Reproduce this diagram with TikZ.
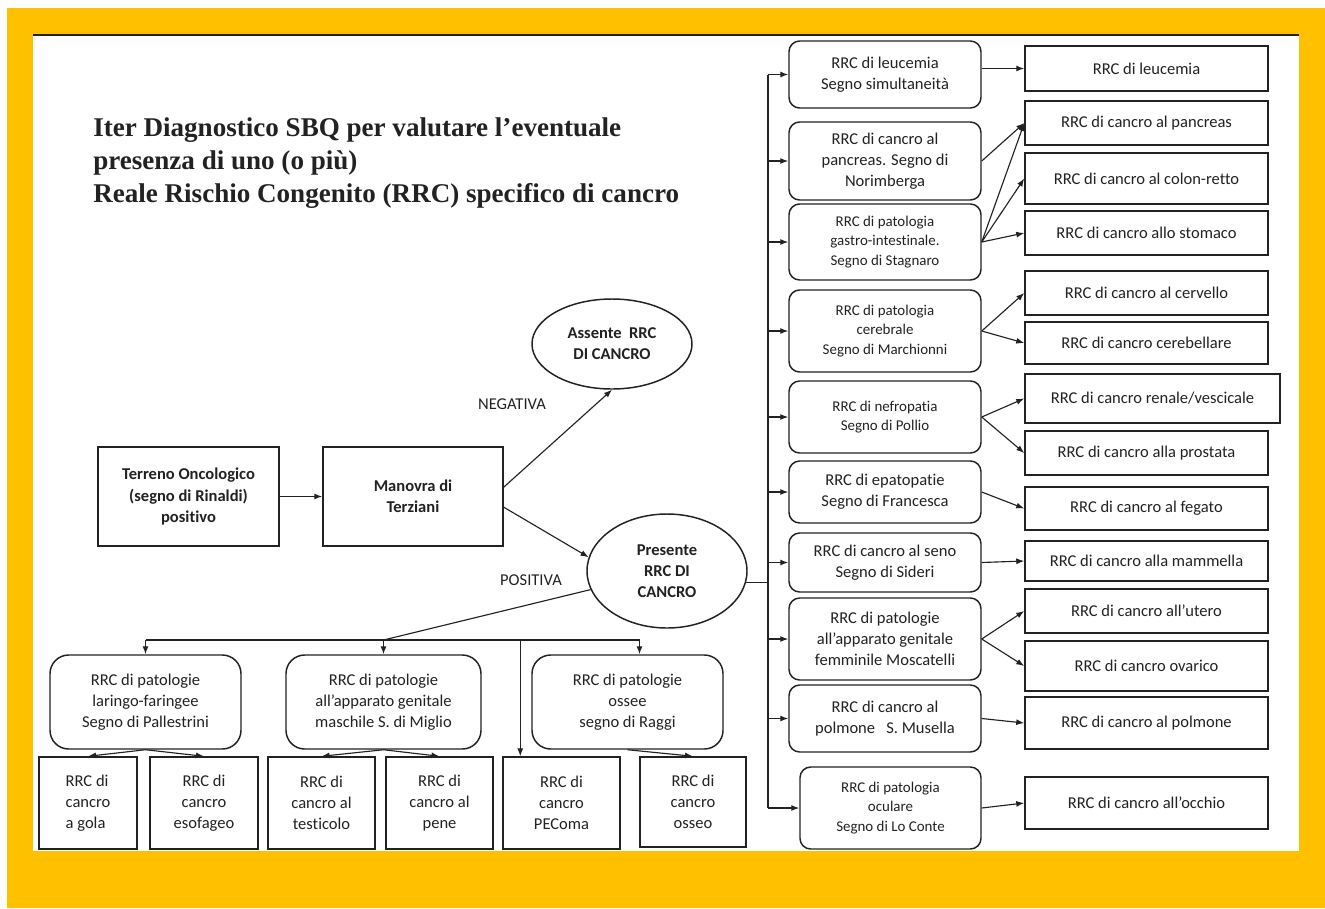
\documentclass[tikz,border=0pt]{standalone}
\usepackage{fontspec}
\setmainfont{Carlito}[Ligatures=NoCommon]
\newfontfamily\titlefont{Liberation Serif}
\usetikzlibrary{arrows.meta,shapes.geometric}
\definecolor{frameorange}{RGB}{255,192,0}
\definecolor{ink}{RGB}{34,34,34}
\tikzset{
  wh/.style 2 args={minimum width=#1*0.75pt, minimum height=#2*0.75pt},
  sqbox/.style={draw=ink, line width=1.1pt, rectangle},
  rbox/.style={draw=ink, line width=1.1pt, rectangle, rounded corners=8pt},
  roundbox/.style={draw=ink, line width=1.1pt, rectangle, rounded corners=14pt},
  oval/.style={draw=ink, line width=1.1pt, ellipse},
  bigfont/.style={font=\fontsize{12.4}{15.8}\selectfont},
  smallfont/.style={font=\fontsize{11.2}{14.6}\selectfont},
  boldfont/.style={font=\bfseries\fontsize{12.4}{15.8}\selectfont},
  link/.style={draw=ink, line width=0.85pt}
}

\begin{document}
\begin{tikzpicture}[x=0.75pt,y=-0.75pt,
  >={Latex[length=6pt,width=4.5pt]},
  every node/.style={text=ink, inner sep=0pt, align=center}]

  \useasboundingbox (0,0) rectangle (1325,908);
  \fill[white] (0,0) rectangle (1325,908);
  \fill[frameorange] (7,8) rectangle (1325,908);   % frame
  \fill[white] (33,35) rectangle (1299,851);       % page
  \draw[ink, line width=0.9pt] (33,35) -- (1299,35);

  % Title
  \node[anchor=base west, align=left, font=\titlefont\bfseries\fontsize{20.3}{24.4}\selectfont] (title) at (93,202)
    {Iter Diagnostico SBQ per valutare l’eventuale\\presenza di uno (o più)\\Reale Rischio Congenito (RRC) specifico di cancro};

  % Start of the path
  \node[sqbox, wh={181}{99}, boldfont] (terreno) at (188.5,496.5) {Terreno Oncologico\\(segno di Rinaldi)\\positivo};
  \node[sqbox, wh={180}{99}, boldfont] (manovra) at (413,496.5) {Manovra di\\Terziani};
  \node[oval, wh={160}{90}, boldfont] (assente) at (612,344) {Assente\ \ RRC\\DI CANCRO};
  \node[oval, wh={160}{114}, boldfont] (presente) at (667,571) {Presente\\RRC DI\\CANCRO};
  \node[bigfont] (neg) at (512,404) {NEGATIVA};
  \node[bigfont] (pos) at (531,580) {POSITIVA};

  % Middle column
  \node[rbox, wh={192}{67}, bigfont]   (leuc)   at (885,74.5) {RRC di leucemia\\Segno simultaneità};
  \node[rbox, wh={192}{78}, bigfont]   (panc)   at (885,161)  {RRC di cancro al\\pancreas. Segno di\\Norimberga};
  \node[rbox, wh={192}{76}, smallfont] (gastro) at (885,242)  {RRC di patologia\\gastro-intestinale.\\Segno di Stagnaro};
  \node[rbox, wh={192}{82}, smallfont] (cereb)  at (885,331)  {RRC di patologia\\cerebrale\\Segno di Marchionni};
  \node[rbox, wh={192}{72}, smallfont] (nefro)  at (885,417)  {RRC di nefropatia\\Segno di Pollio};
  \node[rbox, wh={192}{62}, bigfont]   (epato)  at (885,492)  {RRC di epatopatie\\Segno di Francesca};
  \node[rbox, wh={192}{59}, bigfont]   (seno)   at (885,562.5) {RRC di cancro al seno\\Segno di Sideri};
  \node[rbox, wh={192}{82}, bigfont]   (femm)   at (885,639)  {RRC di patologie\\all’apparato genitale\\femminile Moscatelli};
  \node[rbox, wh={192}{67}, bigfont]   (polm)   at (885,718.5) {RRC di cancro al\\polmone\ \ \ S. Musella};
  \node[rbox, wh={181}{82}, smallfont] (ocul)   at (890.5,808) {RRC di patologia\\oculare\\Segno di Lo Conte};

  % Right column
  \node[sqbox, wh={243}{45}, bigfont] (rleuc)   at (1146.5,68.5) {RRC di leucemia};
  \node[sqbox, wh={243}{44}, bigfont] (rpanc)   at (1146.5,123)  {RRC di cancro al pancreas};
  \node[sqbox, wh={243}{51}, bigfont] (rcolon)  at (1146.5,178.5) {RRC di cancro al colon-retto};
  \node[sqbox, wh={243}{44}, bigfont] (rstom)   at (1146.5,233)  {RRC di cancro allo stomaco};
  \node[sqbox, wh={243}{44}, bigfont] (rcerv)   at (1146.5,293)  {RRC di cancro al cervello};
  \node[sqbox, wh={243}{42}, bigfont] (rcbl)    at (1146.5,343)  {RRC di cancro cerebellare};
  \node[sqbox, wh={255}{49}, bigfont] (rrene)   at (1152.5,398.5) {RRC di cancro renale/vescicale};
  \node[sqbox, wh={243}{44}, bigfont] (rprost)  at (1146.5,453)  {RRC di cancro alla prostata};
  \node[sqbox, wh={243}{43}, bigfont] (rfeg)    at (1146.5,508.5) {RRC di cancro al fegato};
  \node[sqbox, wh={243}{40}, bigfont] (rmamm)   at (1146.5,561)  {RRC di cancro alla mammella};
  \node[sqbox, wh={243}{44}, bigfont] (rutero)  at (1146.5,611)  {RRC di cancro all’utero};
  \node[sqbox, wh={243}{50}, bigfont] (rovar)   at (1146.5,666)  {RRC di cancro ovarico};
  \node[sqbox, wh={243}{52}, bigfont] (rpolm)   at (1146.5,723)  {RRC di cancro al polmone};
  \node[sqbox, wh={243}{52}, bigfont] (rocchio) at (1146.5,803)  {RRC di cancro all’occhio};

  % Bottom row
  \node[roundbox, wh={191}{94}, bigfont] (laringo)  at (145.5,702) {RRC di patologie\\laringo-faringee\\Segno di Pallestrini};
  \node[roundbox, wh={195}{94}, bigfont] (maschile) at (383.5,702) {RRC di patologie\\all’apparato genitale\\maschile S. di Miglio};
  \node[roundbox, wh={191}{94}, bigfont] (ossee)    at (627.5,702) {RRC di patologie\\ossee\\segno di Raggi};

  \node[sqbox, wh={98}{92}, bigfont, align=left] (gola) at (88,803) {RRC di\\cancro\\a gola};
  \node[sqbox, wh={108}{92}, bigfont] (esofago) at (204,803)   {RRC di\\cancro\\esofageo};
  \node[sqbox, wh={107}{92}, bigfont] (testic)  at (321.5,803) {RRC di\\cancro al\\testicolo};
  \node[sqbox, wh={107}{92}, bigfont] (pene)    at (439.5,803) {RRC di\\cancro al\\pene};
  \node[sqbox, wh={117}{92}, bigfont] (pecoma)  at (561.5,803) {RRC di\\cancro\\PEComa};
  \node[sqbox, wh={106}{90}, bigfont] (osseo)   at (693,802)   {RRC di\\cancro\\osseo};

  % Arrows from the start
  \draw[link,->] (terreno) -- (manovra);
  \draw[link,->] ([yshift=7pt]manovra.east) -- (assente.south);
  \draw[link,->] ([yshift=-8pt]manovra.east) -- (presente.170);

  % Trunk to the middle column
  \coordinate (trunk) at (768,571);
  \draw[link] (presente.-8) -- (trunk |- presente.-8);
  \draw[link] (trunk |- leuc.west) -- (trunk |- ocul.west);
  \foreach \n in {leuc,panc,gastro,cereb,nefro,epato,seno,femm,polm,ocul}
    \draw[link,->] (trunk |- \n.west) -- (\n.west);

  % Middle column to right column
  \draw[link,->] (leuc.east |- rleuc.west) -- (rleuc.west);
  \draw[link,->] (panc.east) -- (rpanc.west);
  \foreach \r in {rpanc,rcolon,rstom}
    \draw[link,->] (gastro.east) -- (\r.west);
  \draw[link,->] (cereb.east) -- (rcerv.west);
  \draw[link,->] (cereb.east) -- (rcbl.west);
  \draw[link,->] (nefro.east) -- (rrene.west);
  \draw[link,->] (nefro.east) -- (rprost.west);
  \draw[link,->] (epato.east) -- (rfeg.west);
  \draw[link,->] (seno.east) -- (rmamm.west);
  \draw[link,->] (femm.east) -- (rutero.west);
  \draw[link,->] (femm.east) -- (rovar.west);
  \draw[link,->] (polm.east) -- (rpolm.west);
  \draw[link,->] (ocul.east) -- (rocchio.west);

  % Bus to the bottom row
  \coordinate (bus) at (383.5,640);
  \coordinate (osk) at ([xshift=9pt]ossee.north);
  \coordinate (pek) at ([xshift=13.5pt]pecoma.north west);
  \draw[link] (presente) -- (bus);
  \draw[link] (laringo.north |- bus) -- (osk |- bus);
  \draw[link,->] (laringo.north |- bus) -- (laringo.north);
  \draw[link,->] (maschile.north |- bus) -- (maschile.north);
  \draw[link,->] (osk |- bus) -- (osk);
  \draw[link,->] (pek |- bus) -- (pek);

  % Bottom row to leaves
  \draw[link,->] (laringo.south) -- (gola.north);
  \draw[link,->] (laringo.south) -- (esofago.north);
  \draw[link,->] (maschile.south) -- (testic.north);
  \draw[link,->] (maschile.south) -- (pene.north);
  \draw[link,->] (ossee.south) -- (osseo.north);
\end{tikzpicture}
\end{document}
